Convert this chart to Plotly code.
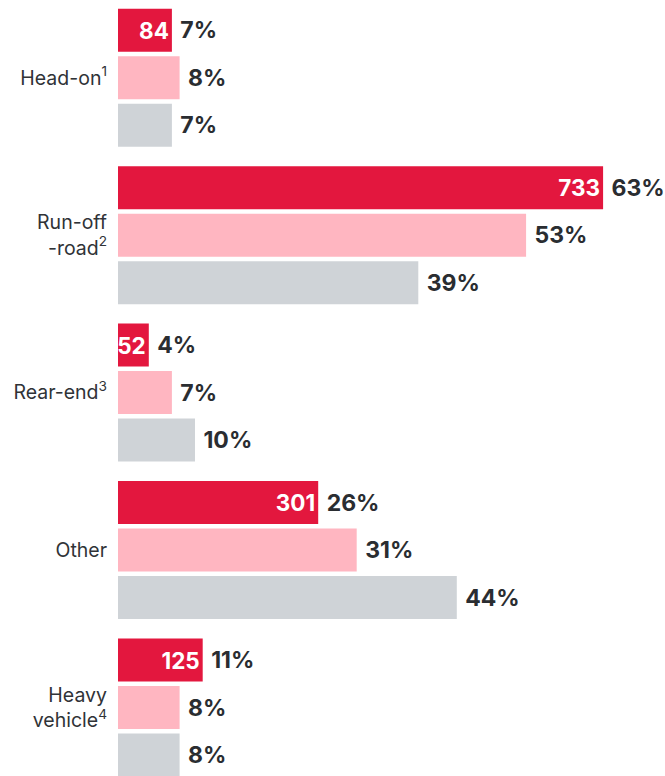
import plotly.graph_objects as go

categories = ["Head-on<sup>1</sup>", "Run-off<br>-road<sup>2</sup>", "Rear-end<sup>3</sup>", "Other", "Heavy<br>vehicle<sup>4</sup>"]
red_pct = [7, 63, 4, 26, 11]
red_count = [84, 733, 52, 301, 125]
pink_pct = [8, 53, 7, 31, 8]
grey_pct = [7, 39, 10, 44, 8]

RED = "#E3173E"
PINK = "#FFB6C1"
GREY = "#CFD3D7"
DARK = "#2A2D31"
NB = "\u00a0"

fig = go.Figure()

def pct_text(vals):
    return [NB + f"{v}%" for v in vals]

common = dict(orientation="h", cliponaxis=False, constraintext="none", textangle=0,
              hoverinfo="skip", showlegend=False)

PCT_FONT = dict(family="Inter", size=23, color=DARK, weight=700)

fig.add_trace(go.Bar(y=categories, x=red_pct, marker=dict(color=RED, line_width=0),
                     offsetgroup="a", text=pct_text(red_pct), textposition="outside",
                     textfont=PCT_FONT, **common))
fig.add_trace(go.Bar(y=categories, x=red_pct, marker=dict(color="rgba(0,0,0,0)", line_width=0),
                     offsetgroup="a", text=[str(c) for c in red_count],
                     textposition="inside", insidetextanchor="end",
                     textfont=dict(family="Inter", size=22.5, color="white", weight=700),
                     **common))
fig.add_trace(go.Bar(y=categories, x=pink_pct, marker=dict(color=PINK, line_width=0),
                     offsetgroup="b", text=pct_text(pink_pct), textposition="outside",
                     textfont=PCT_FONT, **common))
fig.add_trace(go.Bar(y=categories, x=grey_pct, marker=dict(color=GREY, line_width=0),
                     offsetgroup="c", text=pct_text(grey_pct), textposition="outside",
                     textfont=PCT_FONT, **common))

fig.update_layout(
    width=665, height=776,
    margin=dict(l=118, r=0, t=0, b=0, pad=0),
    barmode="group", bargap=0.095, bargroupgap=0.095,
    paper_bgcolor="white", plot_bgcolor="white",
    font=dict(family="Inter", color=DARK),
    xaxis=dict(range=[0, 71.04], visible=False, fixedrange=True),
    yaxis=dict(range=[4.435, -0.4935], showgrid=False, zeroline=False, showline=False,
               ticks="", ticklabelstandoff=10,
               tickfont=dict(family="Inter", size=19.5, color="#303337")),
)

fig.write_html("out.html")
